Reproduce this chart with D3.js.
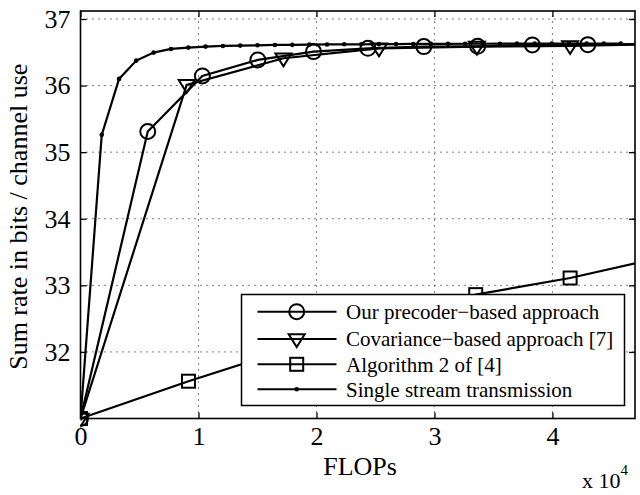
<!DOCTYPE html>
<html><head><meta charset="utf-8">
<script src="https://cdn.jsdelivr.net/npm/d3@7"></script>
<style>
body{margin:0;background:#fff}
svg{display:block}
svg text{font-family:"Liberation Serif","Times New Roman",Times,serif;}
</style>
</head><body>
<svg id="c" width="640" height="495"></svg>
<script>
// Data (FLOPs in units of 10^4)
const precoderX = [0, 0.57, 1.033, 1.503, 1.975, 2.436, 2.91, 3.366, 3.83, 4.30, 4.77];
const precoderY = [31.0, 35.31, 36.145, 36.385, 36.51, 36.56, 36.585, 36.59, 36.61, 36.615, 36.625];
const covX = [0, 0.90, 1.72, 2.53, 3.36, 4.15, 4.97];
const covY = [31.0, 36.01, 36.41, 36.56, 36.585, 36.595, 36.625];
const algX = [0, 0.915, 1.73, 2.54, 3.35, 4.15, 4.97];
const algY = [31.0, 31.56, 32.02, 32.46, 32.86, 33.11, 33.44];
const ssX = [0, 0.18, 0.327, 0.473, 0.62, 0.767, 0.914, 1.06, 1.207, 1.354, 1.50, 1.648, 1.795, 1.94, 2.09, 2.235, 2.38, 2.53, 2.675, 2.82, 2.97, 3.115, 3.26, 3.41, 3.555, 3.70, 3.85, 3.995, 4.14, 4.29, 4.435, 4.58];
const ssY = [31.0, 35.26, 36.10, 36.375, 36.495, 36.55, 36.57, 36.585, 36.595, 36.60, 36.605, 36.61, 36.612, 36.615, 36.618, 36.62, 36.62, 36.622, 36.624, 36.625, 36.626, 36.627, 36.628, 36.628, 36.629, 36.63, 36.63, 36.63, 36.63, 36.63, 36.63, 36.63];
const xTicks = [0, 1, 2, 3, 4];
const yTicks = [32, 33, 34, 35, 36, 37];
const legendLabels = ["Our precoder\u2212based approach", "Covariance\u2212based approach [7]", "Algorithm 2 of [4]", "Single stream transmission"];

const svg = d3.select("#c");
const L = 80.5, R = 635, T = 11, B = 418.5;
const x = d3.scaleLinear().domain([0, 4.7]).range([L, R]);
const y = d3.scaleLinear().domain([31, 37.12]).range([B, T]);
const font = "Liberation Serif, Times New Roman, serif";

// grid
const grid = svg.append("g").attr("stroke", "#000").attr("stroke-width", 1).attr("stroke-dasharray", "1,5");
xTicks.forEach(t => grid.append("line").attr("x1", x(t)).attr("x2", x(t)).attr("y1", B).attr("y2", T));
yTicks.forEach(t => grid.append("line").attr("x1", L).attr("x2", R).attr("y1", y(t)).attr("y2", y(t)));

// axes
function styleAxis(g) {
  g.attr("font-family", null);
  g.select(".domain").remove();
  g.selectAll(".tick line").attr("stroke", "#000").attr("stroke-width", 1.3);
  g.selectAll(".tick text").style("font-family", font).attr("font-size", 26).attr("fill", "#000");
}
svg.append("g").attr("transform", `translate(0,${B})`)
  .call(d3.axisBottom(x).tickValues(xTicks).tickFormat(d3.format("d")).tickSizeInner(-6).tickSizeOuter(0).tickPadding(8))
  .call(styleAxis);
svg.append("g").attr("transform", `translate(0,${T})`)
  .call(d3.axisTop(x).tickValues(xTicks).tickFormat("").tickSizeInner(-6).tickSizeOuter(0))
  .call(styleAxis);
svg.append("g").attr("transform", `translate(${L},0)`)
  .call(d3.axisLeft(y).tickValues(yTicks).tickFormat(d3.format("d")).tickSizeInner(-6).tickSizeOuter(0).tickPadding(10))
  .call(styleAxis);
svg.append("g").attr("transform", `translate(${R},0)`)
  .call(d3.axisRight(y).tickValues(yTicks).tickFormat("").tickSizeInner(-6).tickSizeOuter(0))
  .call(styleAxis);

svg.append("defs").append("clipPath").attr("id", "clip")
  .append("rect").attr("x", L).attr("y", T - 10).attr("width", R - L).attr("height", B - T + 20);

const plot = svg.append("g");
const lineGen = d3.line().x(d => x(d[0])).y(d => y(d[1]));

function marker(g, type, cx, cy) {
  if (type === "circle") {
    g.append("circle").attr("cx", cx).attr("cy", cy).attr("r", 7.5)
      .attr("fill", "none").attr("stroke", "#000").attr("stroke-width", 2);
  } else if (type === "tri") {
    const s = 8;
    g.append("path").attr("d", `M${cx - s},${cy - s * 0.6}L${cx + s},${cy - s * 0.6}L${cx},${cy + s * 1.0}Z`)
      .attr("fill", "none").attr("stroke", "#000").attr("stroke-width", 2);
  } else if (type === "square") {
    const s = 6.5;
    g.append("rect").attr("x", cx - s).attr("y", cy - s).attr("width", 2 * s).attr("height", 2 * s)
      .attr("fill", "none").attr("stroke", "#000").attr("stroke-width", 2);
  } else if (type === "dot") {
    g.append("circle").attr("cx", cx).attr("cy", cy).attr("r", 2.3).attr("fill", "#000");
  }
}

const series = [
  {xs: precoderX, ys: precoderY, m: "circle"},
  {xs: covX, ys: covY, m: "tri"},
  {xs: algX, ys: algY, m: "square"},
  {xs: ssX, ys: ssY, m: "dot"}
];
series.forEach(s => {
  const pts = s.xs.map((v, i) => [v, s.ys[i]]);
  const g = plot.append("g").attr("clip-path", "url(#clip)");
  g.append("path").attr("d", lineGen(pts)).attr("fill", "none").attr("stroke", "#000").attr("stroke-width", 2.2);
  pts.filter(p => p[0] <= 4.7).forEach(p => marker(g, s.m, x(p[0]), y(p[1])));
});

// box
svg.append("rect").attr("x", L).attr("y", T).attr("width", R - L).attr("height", B - T)
  .attr("fill", "none").attr("stroke", "#000").attr("stroke-width", 1.6);

// legend
const lg = svg.append("g");
lg.append("rect").attr("x", 241.5).attr("y", 294.5).attr("width", 383).attr("height", 111)
  .attr("fill", "#fff").attr("stroke", "#000").attr("stroke-width", 1.5);
const rows = [311.7, 339, 364.3, 389.3];
legendLabels.forEach((lab, i) => {
  lg.append("line").attr("x1", 257.5).attr("x2", 336.5).attr("y1", rows[i]).attr("y2", rows[i])
    .attr("stroke", "#000").attr("stroke-width", 2);
  marker(lg, series[i].m, 296.7, rows[i]);
  lg.append("text").attr("x", 346).attr("y", rows[i]).attr("dy", "0.35em")
    .style("font-family", font).attr("font-size", 21).text(lab);
});

// labels
svg.append("text").attr("x", x(2.37)).attr("y", 475).attr("text-anchor", "middle")
  .style("font-family", font).attr("font-size", 26).text("FLOPs");
svg.append("text").attr("transform", `translate(27,${(T + B) / 2 + 2}) rotate(-90)`)
  .attr("text-anchor", "middle").style("font-family", font).attr("font-size", 26)
  .text("Sum rate in bits / channel use");
const ex = svg.append("text").attr("x", 582).attr("y", 488).style("font-family", font).attr("font-size", 22);
ex.append("tspan").text("x 10");
ex.append("tspan").attr("dy", -13).attr("font-size", 15).text("4");
</script>
</body></html>
